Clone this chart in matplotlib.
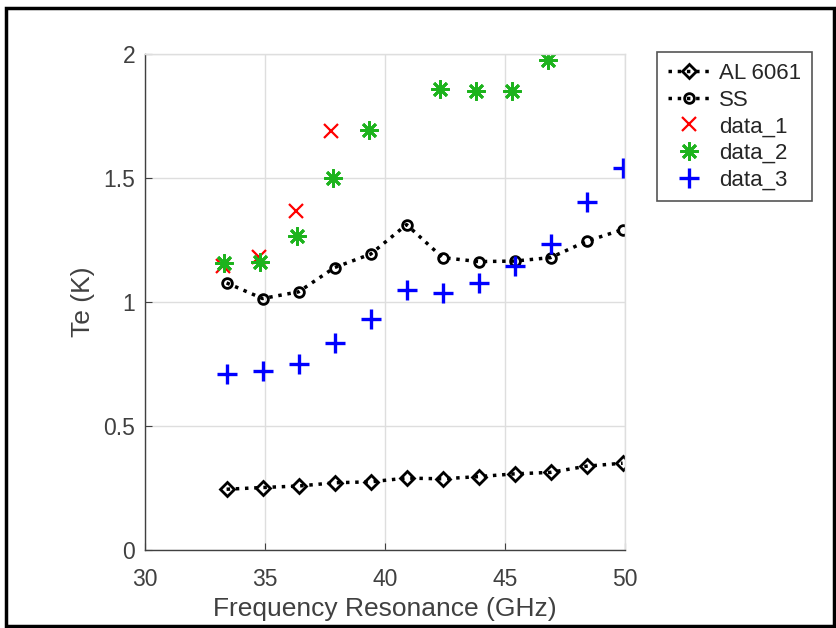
import matplotlib
matplotlib.use('Agg')
import matplotlib.pyplot as plt
from matplotlib.patches import Rectangle

plt.rcParams['font.family'] = ['Liberation Sans', 'DejaVu Sans']

# frequencies (GHz)
freq = [33.4, 34.9, 36.4, 37.9, 39.4, 40.9, 42.4, 43.9, 45.4, 46.9, 48.4, 49.9]
al6061 = [0.245, 0.252, 0.258, 0.271, 0.275, 0.290, 0.287, 0.296, 0.307, 0.313, 0.338, 0.350]
ss = [1.077, 1.014, 1.041, 1.139, 1.193, 1.312, 1.179, 1.163, 1.165, 1.179, 1.245, 1.292]

freq_1 = [33.25, 34.75, 36.3, 37.75]
data_1 = [1.145, 1.183, 1.368, 1.688]

freq_2 = [33.3, 34.8, 36.35, 37.85, 39.35, 42.3, 43.8, 45.3, 46.8]
data_2 = [1.158, 1.161, 1.267, 1.498, 1.692, 1.859, 1.849, 1.852, 1.976]

data_3 = [0.708, 0.722, 0.752, 0.833, 0.930, 1.047, 1.036, 1.076, 1.145, 1.233, 1.404, 1.541]

txt = '#404040'

fig = plt.figure(figsize=(8.37, 6.28), dpi=100)
ax = fig.add_axes([145 / 837, 1 - 550 / 628, 480 / 837, 496 / 628])

ax.plot(freq, al6061, ':', color='black', lw=2.5, marker='D', ms=7,
        mfc='none', mec='black', mew=2, label='AL 6061')
ax.plot(freq, ss, ':', color='black', lw=2.5, marker='o', ms=7,
        mfc='none', mec='black', mew=2, label='SS')
ax.plot(freq_1, data_1, 'x', color='red', ms=10, mew=1.6, label='data_1')
ax.plot(freq_2, data_2, ls='none', marker=(8, 2, 0), color='#1db31d', ms=13,
        mew=2, label='data_2')
ax.plot(freq, data_3, '+', color='blue', ms=15, mew=2.4, label='data_3')

ax.set_xlim(30, 50)
ax.set_ylim(0, 2)
ax.set_xticks([30, 35, 40, 45, 50])
ax.set_yticks([0, 0.5, 1, 1.5, 2])
ax.set_yticklabels(['0', '0.5', '1', '1.5', '2'])
ax.grid(True, color='#dedede', lw=1)
ax.set_axisbelow(True)
ax.tick_params(direction='in', length=5, labelsize=16.5, colors=txt, labelcolor=txt)
ax.tick_params(axis='x', pad=13)
ax.tick_params(axis='y', pad=7)
for side in ['left', 'bottom']:
    ax.spines[side].set_color(txt)
    ax.spines[side].set_linewidth(1)
for side in ['top', 'right']:
    ax.spines[side].set_color('#dedede')
    ax.spines[side].set_linewidth(1)

ax.set_xlabel('Frequency Resonance (GHz)', fontsize=19, color=txt, labelpad=4)
ax.set_ylabel('Te (K)', fontsize=19, color=txt, labelpad=6)

leg = ax.legend(loc='upper left', bbox_to_anchor=(657 / 837, 1 - 52 / 628),
                bbox_transform=fig.transFigure, borderaxespad=0, fontsize=16,
                frameon=True, fancybox=False, framealpha=1, edgecolor='#555555',
                handlelength=1.9, handletextpad=0.4, labelspacing=0.25,
                borderpad=0.5)
leg.get_frame().set_linewidth(1.2)
for t in leg.get_texts():
    t.set_color('#262626')

fig.add_artist(Rectangle((6 / 837, 1 - 626 / 628), 828 / 837, 618 / 628,
                         transform=fig.transFigure, fill=False,
                         edgecolor='black', lw=2.5))

fig.savefig('out.png', dpi=100)
plt.close(fig)
